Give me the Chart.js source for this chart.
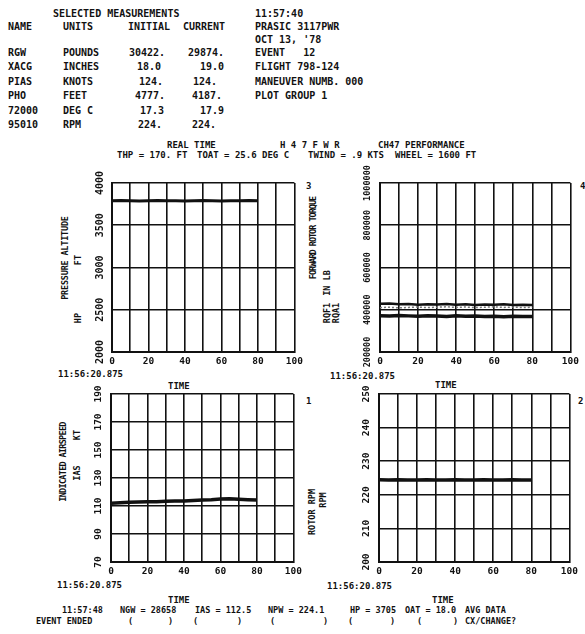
<!DOCTYPE html>
<html>
<head>
<meta charset="utf-8">
<script src="https://cdn.jsdelivr.net/npm/chart.js@4.4.1/dist/chart.umd.min.js"></script>
<style>
  html, body { margin: 0; padding: 0; background: #fff; }
  #page { position: relative; width: 585px; height: 634px; overflow: hidden; background: #fff; }
  .t { position: absolute; white-space: pre; font-family: "DejaVu Sans Mono", "Liberation Mono", monospace;
       font-weight: bold; color: #111; line-height: 12px; }
  .r { position: absolute; white-space: pre; font-family: "DejaVu Sans Mono", "Liberation Mono", monospace;
       font-weight: bold; color: #111; line-height: 10px; transform: translate(-50%, -50%) rotate(-90deg); }
  canvas { position: absolute; }
</style>
</head>
<body>
<div id="page"></div>
<script>
// time axis (seconds into the event)
var timeSec = [0, 5, 10, 15, 20, 25, 30, 35, 40, 45, 50, 55, 60, 65, 70, 75, 80];
var timeTicks = [0, 20, 40, 60, 80, 100];

// plot 3 - pressure altitude, ft
var pressureAlt = [3790, 3794, 3791, 3788, 3790, 3793, 3791, 3789, 3787, 3790, 3792, 3790, 3788, 3791, 3789, 3792, 3790];
var altTicks = [2000, 2500, 3000, 3500, 4000];

// plot 4 - forward rotor torque, in lb
var torqueFqf1 = [428000, 430000, 426000, 427000, 424000, 426000, 425000, 427000, 424000, 426000, 423000, 425000, 424000, 426000, 422000, 424000, 423000];
var torqueBand = [410000, 412000, 409000, 411000, 413000, 410000, 412000, 414000, 411000, 413000, 410000, 412000, 414000, 411000, 413000, 410000, 412000];
var torqueRqa1 = [372000, 370000, 373000, 371000, 369000, 372000, 370000, 368000, 371000, 369000, 370000, 368000, 369000, 367000, 369000, 368000, 368000];
var torqueTicks = [200000, 400000, 600000, 800000, 1000000];

// plot 1 - indicated airspeed, kt
var iasKt = [112.0, 112.3, 112.6, 112.8, 113.1, 113.0, 113.4, 113.6, 113.5, 113.9, 114.2, 114.5, 115.0, 115.2, 114.8, 114.5, 114.2];
var iasTicks = [70, 90, 110, 130, 150, 170, 190];

// plot 2 - rotor rpm
var rotorRpm = [224.5, 224.4, 224.5, 224.4, 224.4, 224.5, 224.4, 224.4, 224.5, 224.4, 224.4, 224.5, 224.4, 224.4, 224.5, 224.4, 224.4];
var rpmTicks = [200, 210, 220, 230, 240, 250];

var page = document.getElementById('page');
var INK = '#111';

function put(text, x, y, size) {
    var d = document.createElement('div');
    d.className = 't';
    d.textContent = text;
    d.style.left = x + 'px';
    d.style.top = (y - 6) + 'px';
    d.style.fontSize = (size || 9) + 'px';
    page.appendChild(d);
}

function putV(text, cx, cy, size, spacing) {
    var d = document.createElement('div');
    d.className = 'r';
    d.textContent = text;
    d.style.left = cx + 'px';
    d.style.top = cy + 'px';
    d.style.fontSize = (size || 8.5) + 'px';
    if (spacing) d.style.letterSpacing = spacing + 'px';
    page.appendChild(d);
}

// header block
put('SELECTED MEASUREMENTS', 53, 14, 10);
put('11:57:40', 255, 14, 10);
put('NAME', 8, 27, 10);
put('UNITS', 63, 27, 10);
put('INITIAL', 128, 27, 10);
put('CURRENT', 183, 27, 10);
put('PRASIC 3117PWR', 255, 27, 10);
put("OCT 13, '78", 255, 40, 10);

var rowY = [53, 67, 82, 96, 111, 125];
var names = ['RGW', 'XACG', 'PIAS', 'PHO', '72000', '95010'];
var units = ['POUNDS', 'INCHES', 'KNOTS', 'FEET', 'DEG C', 'RPM'];
var initial = ['30422.', '18.0', '124.', '4777.', '17.3', '224.'];
var initialX = [129, 137, 139, 135, 140, 138];
var current = ['29874.', '19.0', '124.', '4187.', '17.9', '224.'];
var currentX = [188, 200, 193, 192, 200, 192];
for (var i = 0; i < rowY.length; i++) {
    put(names[i], 8, rowY[i], 10);
    put(units[i], 63, rowY[i], 10);
    put(initial[i], initialX[i], rowY[i], 10);
    put(current[i], currentX[i], rowY[i], 10);
}
put('EVENT   12', 255, 53, 10);
put('FLIGHT 798-124', 255, 67, 10);
put('MANEUVER NUMB. 000', 255, 82, 10);
put('PLOT GROUP 1', 255, 96, 10);

put('REAL TIME', 167, 145, 9);
put('H 4 7 F W R', 280, 145, 9);
put('CH47 PERFORMANCE', 378, 145, 9);
put('THP = 170. FT', 117, 155, 9);
put('TOAT = 25.6 DEG C', 197, 155, 9);
put('TWIND = .9 KTS', 308, 155, 9);
put('WHEEL = 1600 FT', 395, 155, 9);

// axis titles
putV('PRESSURE ALTITUDE', 65, 258, 8.5, -0.2);
putV('FT', 78, 260);
putV('HP', 78, 318);
putV('FORWARD ROTOR TORQUE', 313, 238, 8.5, -1);
putV('IN LB', 327, 283);
putV('RQF1', 327, 313);
putV('RQA1', 336, 313);
putV('INDICATED AIRSPEED', 63, 462, 8.5, -0.7);
putV('KT', 77, 435);
putV('IAS', 77, 473);
putV('ROTOR RPM', 312, 512);
putV('RPM', 323, 500);

// plot numbers
put('3', 306, 186, 9);
put('4', 580, 186, 9);
put('1', 306, 401, 9);
put('2', 578, 401, 9);

// time stamps under plots
put('11:56:20.875', 58, 374, 9);
put('TIME', 168, 386, 9);
put('11:56:20.875', 330, 376, 9);
put('TIME', 435, 385, 9);
put('11:56:20.875', 57, 585, 9);
put('TIME', 168, 600, 9);
put('11:56:20.875', 327, 586, 9);
put('TIME', 432, 600, 9);

// footer
put('11:57:48', 62, 610, 8.5);
put('NGW = 28658', 120, 610, 8.5);
put('IAS = 112.5', 195, 610, 8.5);
put('NPW = 224.1', 268, 610, 8.5);
put('HP = 3705', 350, 610, 8.5);
put('OAT = 18.0', 405, 610, 8.5);
put('AVG DATA', 465, 610, 8.5);
put('EVENT ENDED', 36, 621, 8.5);
var parenX = [[128, 168], [193, 237], [270, 323], [348, 390], [417, 453]];
parenX.forEach(function (p) {
    put('(', p[0], 621, 8.5);
    put(')', p[1], 621, 8.5);
});
put('CX/CHANGE?', 465, 621, 8.5);

// rotated y tick labels
var yLabels = {
    id: 'yLabels',
    afterDraw: function (chart, args, opts) {
        var ctx = chart.ctx;
        var ys = chart.scales.y;
        ctx.save();
        ctx.fillStyle = INK;
        ctx.font = 'bold ' + (opts.size || 9) + 'px "DejaVu Sans Mono"';
        ctx.textAlign = 'center';
        ctx.textBaseline = 'middle';
        ys.ticks.forEach(function (t) {
            var py = ys.getPixelForValue(t.value);
            ctx.save();
            ctx.translate(chart.chartArea.left - 12, py);
            ctx.rotate(-Math.PI / 2);
            ctx.fillText(String(t.value), 0, 0);
            ctx.restore();
        });
        ctx.restore();
    }
};

function makePlot(rect, yTicks, yFont, datasets) {
    var padL = 30, padT = 18, padR = 8, padB = 20;
    var c = document.createElement('canvas');
    var w = rect.r - rect.l + padL + padR;
    var h = rect.b - rect.t + padT + padB;
    c.width = w;
    c.height = h;
    c.style.left = (rect.l - padL) + 'px';
    c.style.top = (rect.t - padT) + 'px';
    c.style.width = w + 'px';
    c.style.height = h + 'px';
    page.appendChild(c);

    var sets = datasets.map(function (d) {
        return {
            data: d.values.map(function (v, k) { return { x: timeSec[k], y: v }; }),
            borderColor: d.color || INK,
            borderWidth: d.width || 2.5,
            borderDash: d.dash || [],
            pointRadius: 0,
            tension: 0,
            fill: false
        };
    });

    new Chart(c.getContext('2d'), {
        type: 'line',
        data: { datasets: sets },
        options: {
            responsive: false,
            animation: false,
            layout: { padding: { top: padT, right: padR, left: 0, bottom: 0 } },
            plugins: {
                legend: { display: false },
                tooltip: { enabled: false },
                yLabels: { size: yFont }
            },
            scales: {
                x: {
                    type: 'linear',
                    min: 0,
                    max: 100,
                    grid: { color: INK, lineWidth: 1.6, drawTicks: false },
                    border: { color: INK, width: 2 },
                    ticks: {
                        stepSize: 10,
                        autoSkip: false,
                        maxRotation: 0,
                        padding: 4,
                        color: INK,
                        font: { family: 'DejaVu Sans Mono', weight: 'bold', size: 9.5 },
                        callback: function (v) { return timeTicks.indexOf(v) >= 0 ? String(v) : ''; }
                    },
                    afterFit: function (s) { s.height = padB; }
                },
                y: {
                    type: 'linear',
                    min: yTicks[0],
                    max: yTicks[yTicks.length - 1],
                    grid: { color: INK, lineWidth: 1.6, drawTicks: false },
                    border: { color: INK, width: 2 },
                    ticks: { stepSize: yTicks[1] - yTicks[0], display: false },
                    afterFit: function (s) { s.width = padL; }
                }
            }
        },
        plugins: [yLabels]
    });
}

makePlot({ l: 112, t: 183, r: 299, b: 352 }, altTicks, 10, [{ values: pressureAlt, width: 3 }]);
makePlot({ l: 380, t: 183, r: 575, b: 352 }, torqueTicks, 8.5, [
    { values: torqueFqf1, width: 2.5 },
    { values: torqueBand, width: 1.5, color: '#777', dash: [2, 2] },
    { values: torqueRqa1, width: 3.5 }
]);
makePlot({ l: 111, t: 394, r: 298, b: 562 }, iasTicks, 9.5, [{ values: iasKt, width: 3.5 }]);
makePlot({ l: 379, t: 394, r: 574, b: 562 }, rpmTicks, 9.5, [{ values: rotorRpm, width: 3.5 }]);
</script>
</body>
</html>
